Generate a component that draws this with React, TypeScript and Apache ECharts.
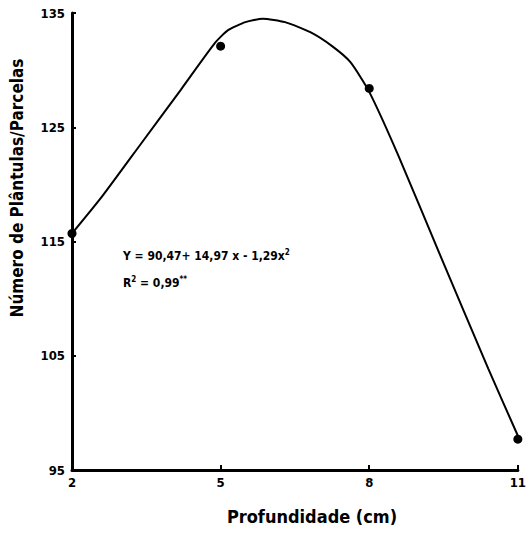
import React, { useEffect, useRef } from "react";
import * as echarts from "echarts";

const depthTicks = [2, 5, 8, 11];
const observedDepth = [2, 5, 8, 11];
const observedCount = [115.7, 132.1, 128.4, 97.7];
const curveDepth = [2, 2.6, 3.4, 4.2, 4.89, 5.15, 5.5, 5.85, 6.3, 6.82, 7.25, 7.62, 8.0, 8.59, 9.48, 10.4, 11.0];
const curveCount = [115.7, 118.9, 123.6, 128.3, 132.4, 133.5, 134.2, 134.5, 134.2, 133.3, 132.1, 130.7, 128.1, 122.5, 113.3, 103.9, 98.0];
const yTicks = [95, 105, 115, 125, 135];

const FONT = "'DejaVu Sans Condensed', 'DejaVu Sans', sans-serif";

export default function App() {
  const ref = useRef<HTMLDivElement>(null);
  useEffect(() => {
    if (!ref.current) return;
    const chart = echarts.init(ref.current, null, { renderer: "svg" });
    chart.setOption({
      animation: false,
      backgroundColor: "#ffffff",
      grid: { left: 72, right: 6, top: 13, bottom: 63 },
      xAxis: {
        type: "value",
        min: 2,
        max: 11,
        interval: 3,
        axisLine: { show: true, lineStyle: { color: "#000", width: 3 } },
        axisTick: { show: true, inside: true, length: 5, lineStyle: { color: "#000", width: 2 } },
        axisLabel: {
          color: "#000",
          fontFamily: FONT,
          fontWeight: "bold",
          fontSize: 13,
          margin: 6,
          formatter: (v: number) => (depthTicks.includes(v) ? String(v) : ""),
        },
        splitLine: { show: false },
      },
      yAxis: {
        type: "value",
        min: 95,
        max: 135,
        interval: 10,
        axisLine: { show: true, lineStyle: { color: "#000", width: 3 } },
        axisTick: { show: true, inside: true, length: 4, lineStyle: { color: "#000", width: 2 } },
        axisLabel: {
          color: "#000",
          fontFamily: FONT,
          fontWeight: "bold",
          fontSize: 13,
          margin: 7,
          formatter: (v: number) => (yTicks.includes(v) ? String(v) : ""),
        },
        splitLine: { show: false },
      },
      series: [
        {
          type: "line",
          data: curveDepth.map((x, i) => [x, curveCount[i]]),
          smooth: 0.2,
          showSymbol: false,
          lineStyle: { color: "#000", width: 2 },
          z: 2,
        },
        {
          type: "scatter",
          data: observedDepth.map((x, i) => [x, observedCount[i]]),
          symbol: "circle",
          symbolSize: 9,
          itemStyle: { color: "#000", opacity: 1 },
          z: 3,
        },
      ],
      graphic: [
        {
          type: "text",
          x: 17,
          y: 188,
          rotation: Math.PI / 2,
          style: {
            text: "Número de Plântulas/Parcelas",
            fontFamily: FONT,
            fontWeight: "bold",
            fontSize: 17,
            fill: "#000",
            align: "center",
            verticalAlign: "middle",
          },
        },
        {
          type: "text",
          x: 312,
          y: 516,
          style: {
            text: "Profundidade (cm)",
            fontFamily: FONT,
            fontWeight: "bold",
            fontSize: 18,
            fill: "#000",
            align: "center",
            verticalAlign: "middle",
          },
        },
        {
          type: "text",
          x: 123,
          y: 256,
          style: {
            text: "Y = 90,47+ 14,97 x - 1,29x{sup|2}",
            fontFamily: FONT,
            fontWeight: "bold",
            fontSize: 12,
            fill: "#000",
            verticalAlign: "middle",
            rich: {
              sup: { fontSize: 8, fontWeight: "bold", fontFamily: FONT, fill: "#000", verticalAlign: "top", padding: [0, 0, 8, 0] },
            },
          },
        },
        {
          type: "text",
          x: 123,
          y: 283,
          style: {
            text: "R{sup|2} = 0,99{sup|**}",
            fontFamily: FONT,
            fontWeight: "bold",
            fontSize: 12,
            fill: "#000",
            verticalAlign: "middle",
            rich: {
              sup: { fontSize: 8, fontWeight: "bold", fontFamily: FONT, fill: "#000", verticalAlign: "top", padding: [0, 0, 8, 0] },
            },
          },
        },
      ],
    });
    return () => chart.dispose();
  }, []);
  return (
    <div
      ref={ref}
      style={{ position: "fixed", left: 0, top: 0, width: 529, height: 533, background: "#fff" }}
    />
  );
}
